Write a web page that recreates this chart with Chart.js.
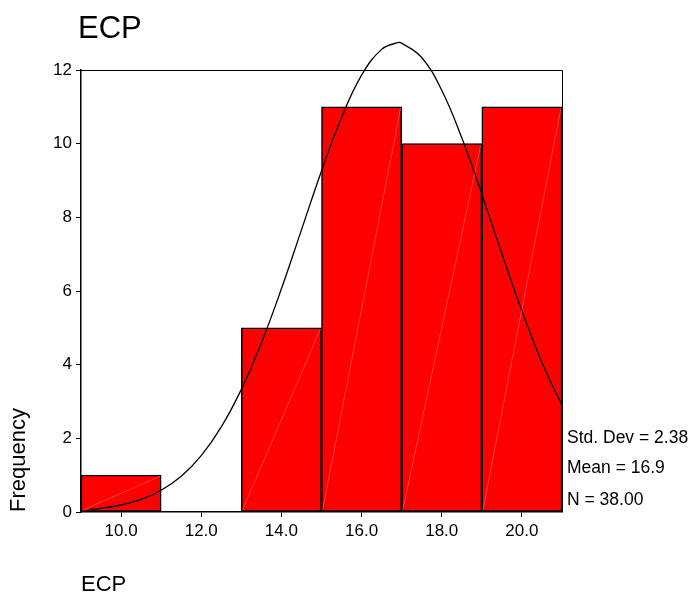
<!DOCTYPE html>
<html>
<head>
<meta charset="utf-8">
<script src="https://cdn.jsdelivr.net/npm/chart.js@4/dist/chart.umd.min.js"></script>
<style>
  body { margin: 0; background: #fff; }
</style>
</head>
<body>
<canvas id="hist" width="696" height="596"></canvas>
<script>
// Datos del histograma
const binCenters = [10, 12, 14, 16, 18, 20];
const frequencies = [1, 0, 5, 11, 10, 11];

// Curva normal superpuesta (valores estimados de la figura)
const curveX = [9.2, 9.5, 10, 10.5, 11, 11.5, 12, 12.5, 13, 13.5, 14, 14.5, 15, 15.5, 16, 16.5, 16.9, 17, 17.5, 18, 18.5, 19, 19.5, 20, 20.5, 21];
const curveY = [0.07, 0.10, 0.19, 0.34, 0.59, 0.97, 1.53, 2.31, 3.33, 4.59, 6.06, 7.66, 9.26, 10.71, 11.86, 12.56, 12.74, 12.73, 12.34, 11.45, 10.16, 8.63, 7.01, 5.46, 4.06, 2.89];

const xTicks = [10, 12, 14, 16, 18, 20];
const yTicks = [0, 2, 4, 6, 8, 10, 12];
const chartTitle = 'ECP';
const xTitle = 'ECP';
const yTitle = 'Frequency';
const statLines = ['Std. Dev = 2.38', 'Mean = 16.9', 'N = 38.00'];

const FONT = "'Liberation Sans', Arial, sans-serif";

// Marco, título, estadísticas y las líneas diagonales tenues de las barras
const extras = {
    id: 'extras',
    afterDatasetsDraw(chart) {
        const ctx = chart.ctx;
        const meta = chart.getDatasetMeta(0);
        ctx.save();
        ctx.strokeStyle = 'rgba(255,190,190,0.55)';
        ctx.lineWidth = 0.6;
        meta.data.forEach((bar, i) => {
            if (!frequencies[i]) return;
            const half = bar.width / 2;
            ctx.beginPath();
            ctx.moveTo(bar.x - half + 1, bar.base - 1);
            ctx.lineTo(bar.x + half - 1, bar.y + 1);
            ctx.stroke();
        });
        ctx.restore();
    },
    afterDraw(chart) {
        const { ctx, chartArea: a } = chart;
        ctx.save();
        ctx.strokeStyle = '#000';
        ctx.lineWidth = 1;
        ctx.beginPath();
        ctx.moveTo(a.left, a.top + 0.5);
        ctx.lineTo(a.right + 0.5, a.top + 0.5);
        ctx.lineTo(a.right + 0.5, a.bottom);
        ctx.stroke();

        ctx.fillStyle = '#000';
        ctx.textBaseline = 'alphabetic';
        ctx.textAlign = 'left';
        ctx.font = '31px ' + FONT;
        ctx.fillText(chartTitle, 78, 38);

        ctx.font = '17.5px ' + FONT;
        const baselines = [443, 473, 505];
        statLines.forEach((t, i) => ctx.fillText(t, a.right + 5, baselines[i]));
        ctx.restore();
    }
};

new Chart(document.getElementById('hist'), {
    type: 'bar',
    data: {
        datasets: [{
            type: 'bar',
            data: binCenters.map((x, i) => ({ x: x, y: frequencies[i] === 0 ? null : frequencies[i] })),
            backgroundColor: '#ff0000',
            borderColor: '#000000',
            borderWidth: 1.5,
            borderSkipped: false,
            barPercentage: 1,
            categoryPercentage: 1,
            order: 2
        }, {
            type: 'line',
            data: curveX.map((x, i) => ({ x: x, y: curveY[i] })),
            borderColor: '#000000',
            borderWidth: 1.3,
            pointRadius: 0,
            tension: 0.4,
            fill: false,
            clip: false,
            order: 1
        }]
    },
    options: {
        responsive: false,
        animation: false,
        layout: { padding: { top: 70, right: 134, bottom: 0, left: 0 } },
        plugins: { legend: { display: false }, tooltip: { enabled: false } },
        scales: {
            x: {
                type: 'linear',
                min: 9,
                max: 21,
                offset: false,
                grid: { display: true, drawOnChartArea: false, offset: false, tickLength: 5, color: '#000' },
                border: { color: '#000', width: 1.5 },
                afterBuildTicks: s => { s.ticks = xTicks.map(v => ({ value: v })); },
                ticks: {
                    color: '#000',
                    font: { family: FONT, size: 17 },
                    padding: 4,
                    maxRotation: 0,
                    autoSkip: false,
                    callback: v => Number(v).toFixed(1)
                },
                title: {
                    display: true,
                    text: xTitle,
                    align: 'start',
                    color: '#000',
                    font: { family: FONT, size: 22, lineHeight: 1 },
                    padding: { top: 0, bottom: 0 }
                },
                afterFit: s => { s.height = 84; }
            },
            y: {
                min: 0,
                max: 12,
                grid: { display: true, drawOnChartArea: false, tickLength: 5, color: '#000' },
                border: { color: '#000', width: 1.5 },
                afterBuildTicks: s => { s.ticks = yTicks.map(v => ({ value: v })); },
                ticks: {
                    color: '#000',
                    font: { family: FONT, size: 17 },
                    padding: 4
                },
                title: {
                    display: true,
                    text: yTitle,
                    align: 'start',
                    color: '#000',
                    font: { family: FONT, size: 22, lineHeight: 1 },
                    padding: { top: 8, bottom: 0 }
                },
                afterFit: s => { s.width = 81; }
            }
        }
    },
    plugins: [extras]
});
</script>
</body>
</html>
